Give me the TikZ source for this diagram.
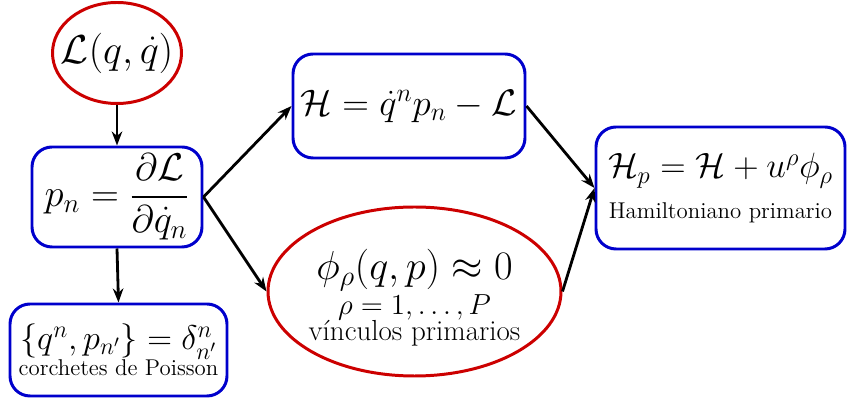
\RequirePackage{fix-cm}
\documentclass[tikz,border=0pt]{standalone}
\usepackage{amsmath,amssymb}
\usetikzlibrary{shapes.geometric,arrows.meta}
\definecolor{boxblue}{RGB}{0,0,204}
\definecolor{ovalred}{RGB}{204,0,0}

\begin{document}
\begin{tikzpicture}[x=1cm,y=1cm,>={Stealth[length=8pt,width=6pt]},
  bluebox/.style={draw=boxblue, line width=1.7pt, rounded corners=0.4cm, inner sep=0pt, align=center},
  redoval/.style={draw=ovalred, line width=1.7pt, ellipse, inner sep=0pt, align=center},
  link/.style={->, line width=1.6pt}]
  \useasboundingbox (0,0) rectangle (16.96,8.08);

  \node[redoval, inner xsep=-0.24cm, minimum width=2.58cm, minimum height=2.02cm, font=\fontsize{23}{27}\selectfont]
    (lag) at (2.34,7.02) {$\mathcal{L}(q,\dot q)$};
  \node[bluebox, minimum width=3.4cm, minimum height=2.0cm, font=\fontsize{22}{26}\selectfont]
    (mom) at (2.34,4.14) {$p_n=\dfrac{\partial\mathcal{L}}{\partial\dot q_n}$};
  \node[bluebox, minimum width=4.34cm, minimum height=1.84cm, font=\fontsize{13}{15}\selectfont]
    (poisson) at (2.37,1.08) {{\fontsize{19.5}{22}\selectfont $\{q^n,p_{n'}\}=\delta^{n}_{n'}$}\\ corchetes de Poisson};

  \node[bluebox, minimum width=4.64cm, minimum height=2.08cm, font=\fontsize{21}{25}\selectfont]
    (ham) at (8.18,5.96) {$\mathcal{H}=\dot q^n p_n-\mathcal{L}$};
  \node[redoval, inner xsep=-0.05cm, minimum width=5.86cm, minimum height=3.38cm, font=\fontsize{16.5}{18}\selectfont]
    (vinc) at (8.29,2.25) {\rule{0pt}{24.5pt}{\fontsize{23}{25}\selectfont $\phi_\rho(q,p)\approx 0$}\\[2pt] $\rho=1,\ldots,P$\\[-3pt] v\'inculos primarios};

  \node[bluebox, minimum width=4.98cm, minimum height=2.44cm, font=\fontsize{13}{16}\selectfont]
    (hamp) at (14.41,4.32) {{\fontsize{20}{24}\selectfont $\mathcal{H}_p=\mathcal{H}+u^\rho\phi_\rho$}\\[7pt] Hamiltoniano primario};

  \draw[link] (lag) -- (mom);
  \draw[link] (mom.south) -- (poisson.north);
  \draw[link] (mom.east) -- (ham.west);
  \draw[link] (mom.east) -- (vinc.west);
  \draw[link] (ham.east) -- (hamp.west);
  \draw[link] (vinc.east) -- (hamp.west);
\end{tikzpicture}
\end{document}
